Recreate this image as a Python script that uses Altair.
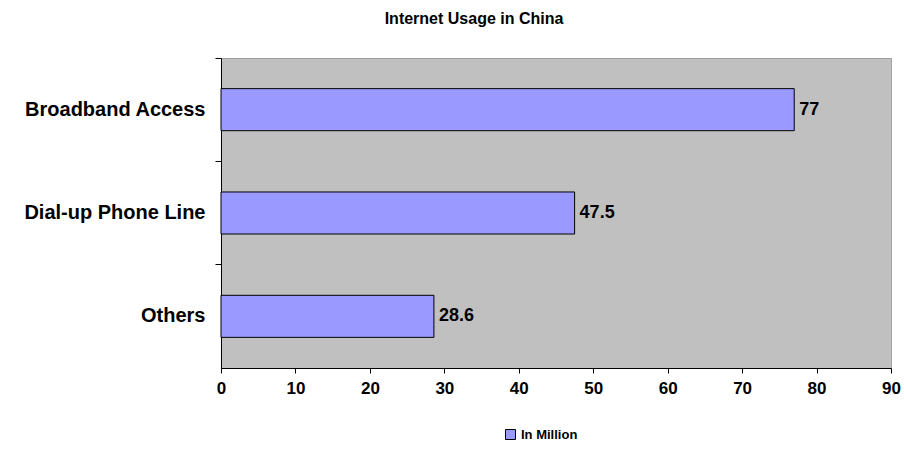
import altair as alt
import pandas as pd

categories = ["Broadband Access", "Dial-up Phone Line", "Others"]
values = [77, 47.5, 28.6]
value_labels = ["77", "47.5", "28.6"]
series = ["In Million"] * 3

df = pd.DataFrame({"cat": categories, "val": values, "lab": value_labels, "series": series})

FONT = "Liberation Sans"
pi = 0.593

y_enc = alt.Y(
    "cat:N",
    sort=categories,
    title=None,
    scale=alt.Scale(paddingInner=pi, paddingOuter=pi / 2),
    axis=alt.Axis(
        labelFont=FONT, labelFontSize=20, labelFontWeight="bold", labelColor="black",
        tickColor="black", tickSize=6, domainColor="black", labelPadding=10,
        bandPosition=-(pi / 2) / (1 - pi), labelLimit=300,
    ),
)

x_enc = alt.X(
    "val:Q",
    title=None,
    scale=alt.Scale(domain=[0, 90], nice=False),
    axis=alt.Axis(
        values=list(range(0, 100, 10)), grid=False, labelFlush=False,
        labelFont=FONT, labelFontSize=17, labelFontWeight="bold", labelColor="black",
        tickColor="black", tickSize=5, domainColor="black", labelPadding=7,
    ),
)

bars = alt.Chart(df).mark_bar(stroke="black", strokeWidth=1).encode(
    x=x_enc,
    y=y_enc,
    color=alt.Color(
        "series:N",
        scale=alt.Scale(range=["#9999FF"]),
        legend=alt.Legend(
            title=None, orient="none", legendX=283, legendY=370,
            symbolType="square", symbolSize=100, symbolStrokeColor="black", symbolStrokeWidth=1,
            labelFont=FONT, labelFontSize=13, labelFontWeight="bold", labelColor="black",
            labelOffset=4,
        ),
    ),
)

labels = alt.Chart(df).mark_text(
    align="left", baseline="middle", dx=5, font=FONT, fontSize=18, fontWeight="bold", color="black"
).encode(x="val:Q", y=alt.Y("cat:N", sort=categories), text="lab:N")

chart = (bars + labels).properties(
    width=670,
    height=310,
    autosize=alt.AutoSizeParams(type="none"),
    padding={"left": 221, "top": 58, "right": 13, "bottom": 83},
    title=alt.TitleParams(
        "Internet Usage in China", font=FONT, fontSize=16, fontWeight="bold", color="black",
        anchor="middle", dx=-82, offset=31,
    ),
    background="white",
).configure_view(fill="#C0C0C0", stroke="#A0A0A0", strokeWidth=1)

chart.save("out.html", embed_options={"renderer": "svg", "actions": False})
